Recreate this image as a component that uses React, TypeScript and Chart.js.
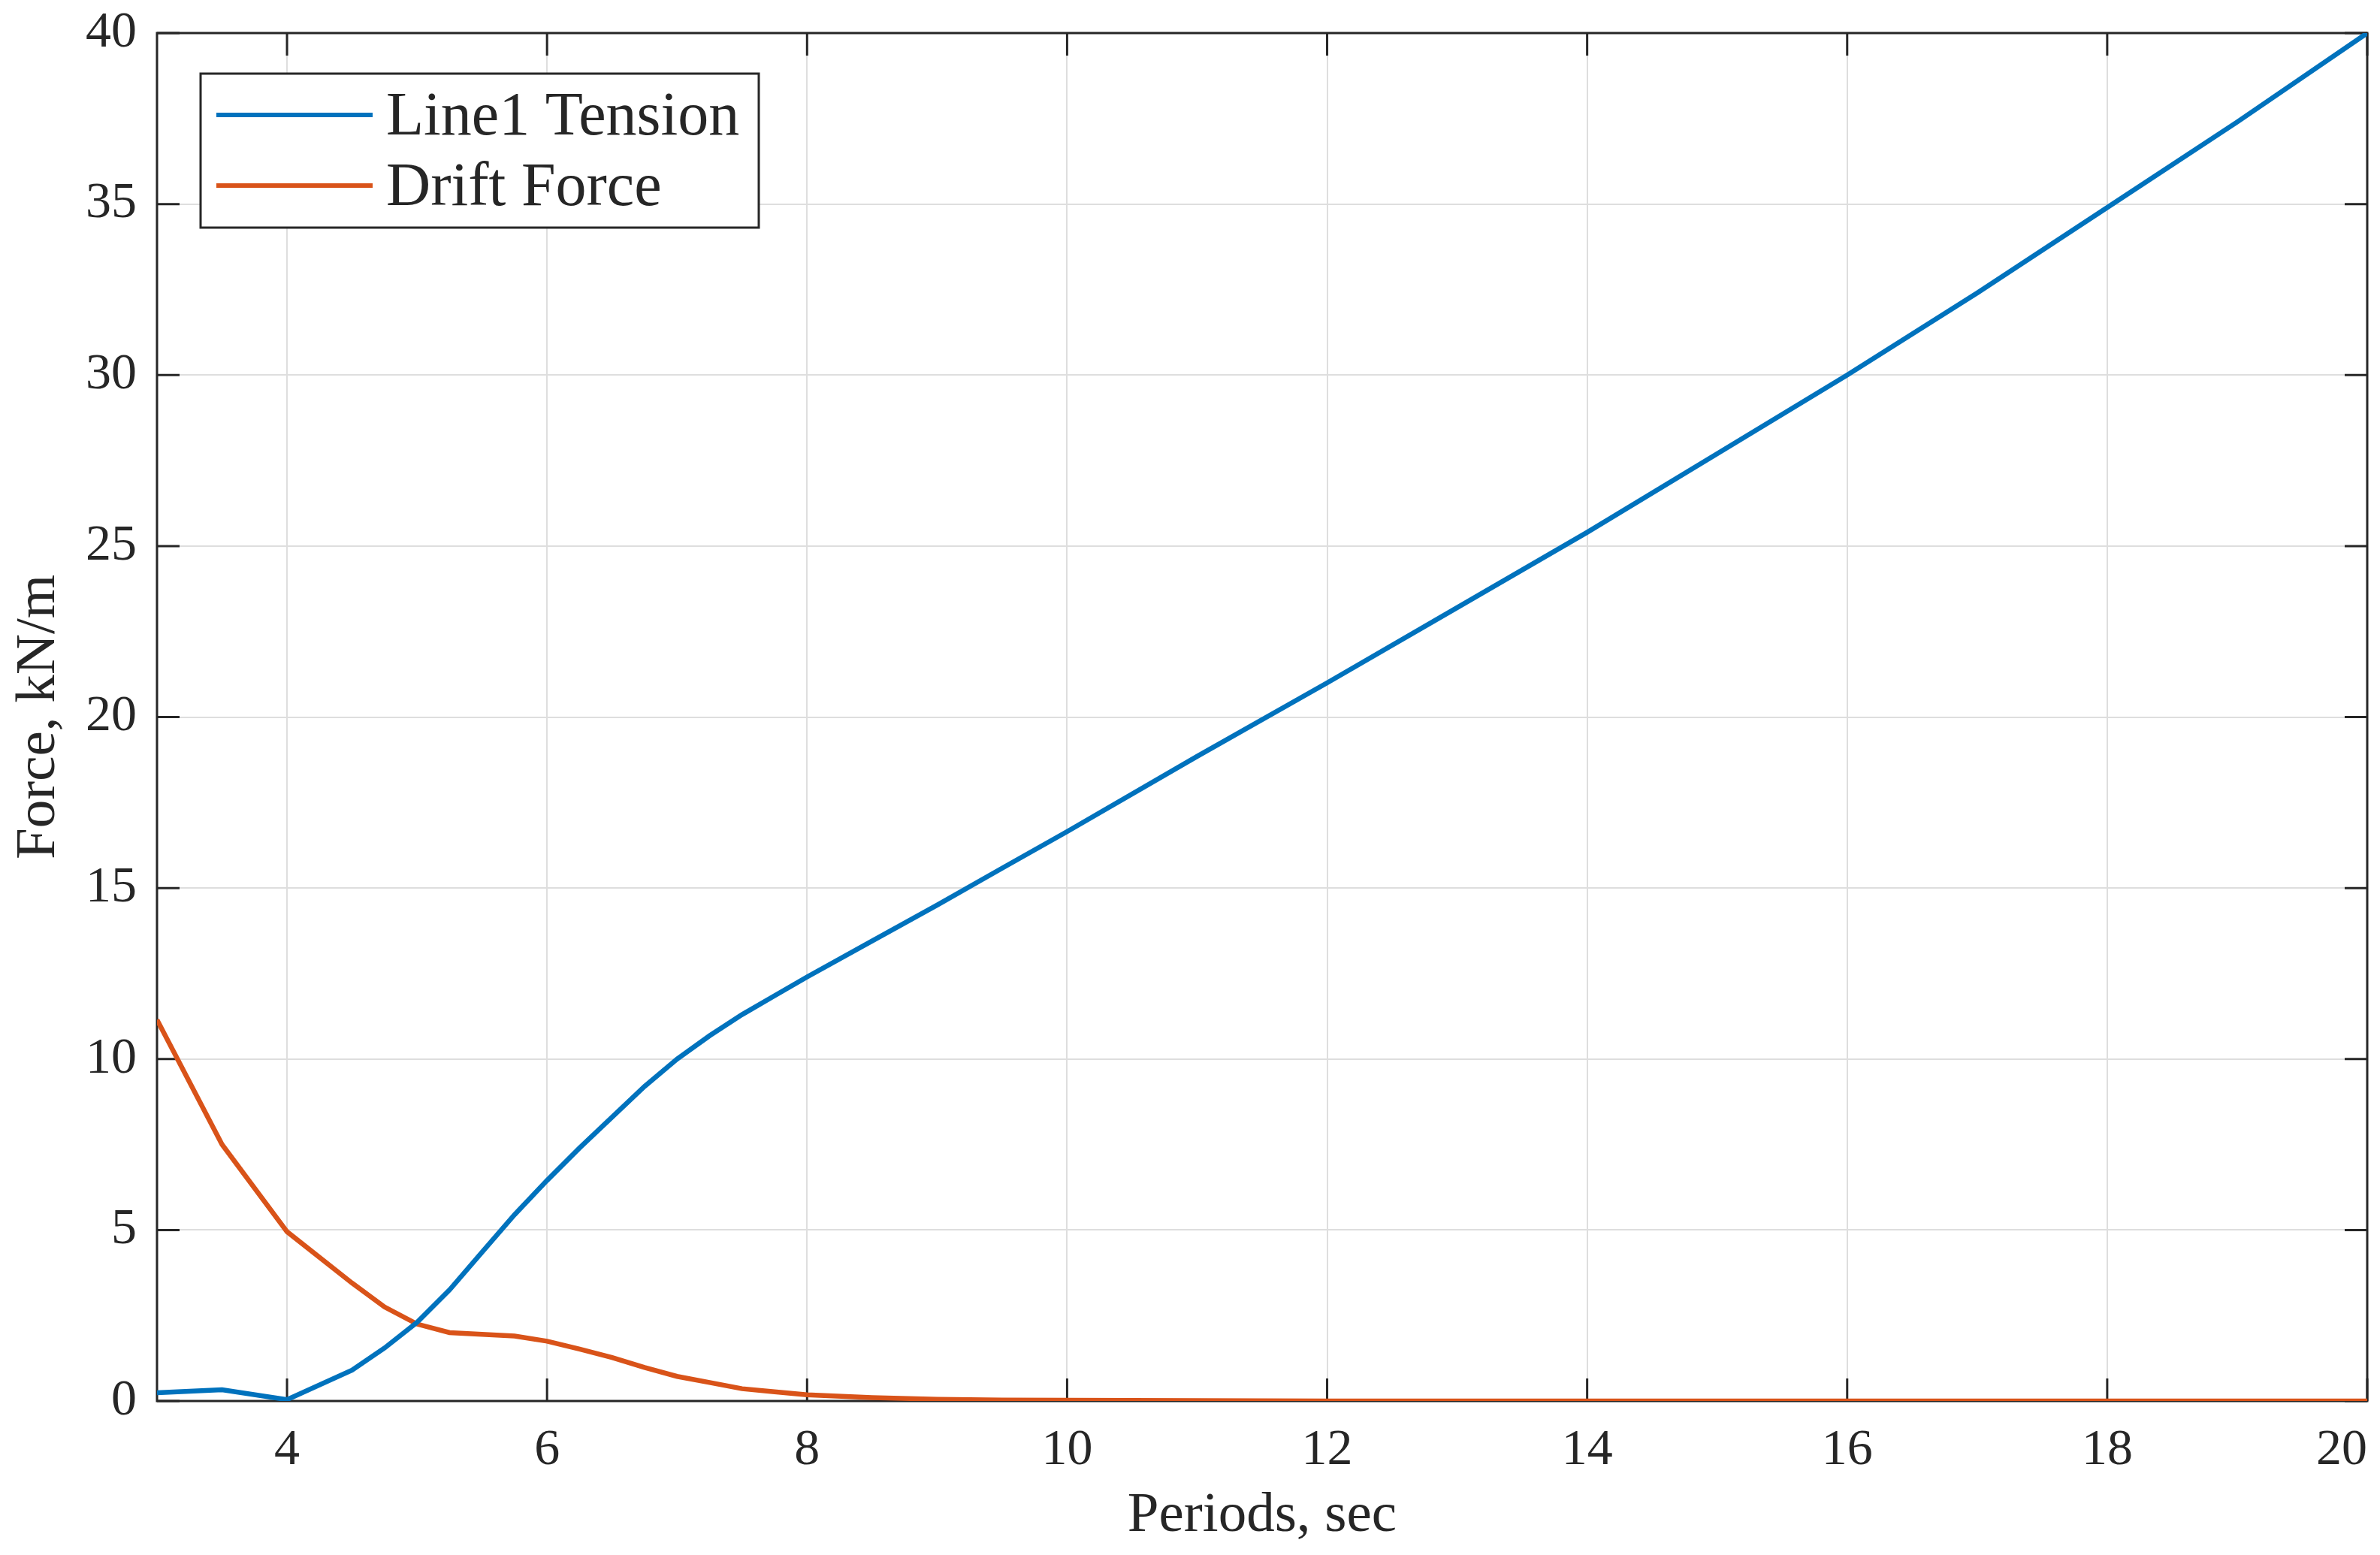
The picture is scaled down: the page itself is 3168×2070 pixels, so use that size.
import React, { useEffect, useRef } from 'react';
import { Chart, registerables } from 'chart.js';

Chart.register(...registerables);

// wave period, sec
const periods = [
  3, 3.5, 4, 4.5, 4.75, 5, 5.25, 5.5, 5.75, 6, 6.25, 6.5, 6.75, 7, 7.25, 7.5, 7.75,
  8, 8.5, 9, 9.5, 10, 11, 12, 13, 14, 15, 16, 17, 18, 19, 20,
];

// kN/m
const line1Tension = [
  0.24, 0.33, 0.04, 0.9, 1.55, 2.3, 3.25, 4.35, 5.45, 6.45, 7.4, 8.3, 9.2, 10.0, 10.68, 11.3, 11.85,
  12.4, 13.45, 14.5, 15.58, 16.65, 18.85, 21.0, 23.2, 25.4, 27.7, 30.0, 32.4, 34.9, 37.4, 40.0,
];

const driftForce = [
  11.15, 7.5, 4.95, 3.45, 2.75, 2.25, 2.0, 1.95, 1.9, 1.75, 1.52, 1.27, 0.98, 0.72, 0.54, 0.36, 0.27,
  0.18, 0.1, 0.05, 0.03, 0.02, 0.01, 0, 0, 0, 0, 0, 0, 0, 0, 0,
];

const xTicks = [4, 6, 8, 10, 12, 14, 16, 18, 20];
const yTicks = [0, 5, 10, 15, 20, 25, 30, 35, 40];

const FONT = "'Liberation Serif', 'Times New Roman', serif";
const INK = '#262626';

const toPoints = (ys: number[]) => periods.map((x, i) => ({ x, y: ys[i] }));

// MATLAB-ish box with inward ticks, drawn under the lines
const axesBox = {
  id: 'axesBox',
  beforeDatasetsDraw(chart: any) {
    const { ctx, chartArea, scales } = chart;
    const { left, right, top, bottom } = chartArea;
    const s = chart.width / 3168;
    const tl = 30 * s;
    ctx.save();
    ctx.strokeStyle = INK;
    ctx.lineWidth = 3 * s;
    ctx.beginPath();
    xTicks.forEach((v) => {
      const px = scales.x.getPixelForValue(v);
      ctx.moveTo(px, bottom);
      ctx.lineTo(px, bottom - tl);
      ctx.moveTo(px, top);
      ctx.lineTo(px, top + tl);
    });
    yTicks.forEach((v) => {
      const py = scales.y.getPixelForValue(v);
      ctx.moveTo(left, py);
      ctx.lineTo(left + tl, py);
      ctx.moveTo(right, py);
      ctx.lineTo(right - tl, py);
    });
    ctx.stroke();
    ctx.strokeRect(left, top, right - left, bottom - top);
    ctx.restore();
  },
};

// legend box inside the plot, upper left
const insetLegend = {
  id: 'insetLegend',
  afterDraw(chart: any) {
    const { ctx, chartArea } = chart;
    const s = chart.width / 3168;
    const bx = chartArea.left + 58 * s;
    const by = chartArea.top + 54 * s;
    const bw = 743 * s;
    const bh = 205 * s;
    ctx.save();
    ctx.fillStyle = '#ffffff';
    ctx.fillRect(bx, by, bw, bh);
    ctx.strokeStyle = INK;
    ctx.lineWidth = 3 * s;
    ctx.strokeRect(bx, by, bw, bh);
    ctx.font = `${82 * s}px ${FONT}`;
    ctx.textBaseline = 'middle';
    ctx.textAlign = 'left';
    chart.data.datasets.forEach((ds: any, i: number) => {
      const ry = by + (55 + i * 94) * s;
      ctx.strokeStyle = ds.borderColor;
      ctx.lineWidth = 6 * s;
      ctx.beginPath();
      ctx.moveTo(bx + 21 * s, ry);
      ctx.lineTo(bx + 229 * s, ry);
      ctx.stroke();
      ctx.fillStyle = INK;
      ctx.fillText(ds.label, bx + 247 * s, ry + 4 * s);
    });
    ctx.restore();
  },
};

const App = () => {
  const canvasRef = useRef<HTMLCanvasElement>(null);

  useEffect(() => {
    if (!canvasRef.current) return;
    document.body.style.margin = '0';
    document.body.style.overflow = 'hidden';
    const s = window.innerWidth / 3168;

    const chart = new Chart(canvasRef.current, {
      type: 'line',
      data: {
        datasets: [
          {
            label: 'Line1 Tension',
            data: toPoints(line1Tension),
            borderColor: '#0072BD',
            borderWidth: 6.5 * s,
            pointRadius: 0,
            tension: 0,
            fill: false,
          },
          {
            label: 'Drift Force',
            data: toPoints(driftForce),
            borderColor: '#D95319',
            borderWidth: 6.5 * s,
            pointRadius: 0,
            tension: 0,
            fill: false,
          },
        ],
      },
      options: {
        animation: false,
        responsive: true,
        maintainAspectRatio: false,
        layout: { padding: { top: 44 * s, right: 17 * s, left: 0, bottom: 0 } },
        plugins: {
          legend: { display: false },
          tooltip: { enabled: false },
        },
        scales: {
          x: {
            type: 'linear',
            min: 3,
            max: 20,
            // a blank tick at the left edge so 'inner' only pulls the last label in
            afterBuildTicks: (scale: any) => {
              scale.ticks = [3, ...xTicks].map((value) => ({ value }));
            },
            afterFit: (scale: any) => {
              scale.height = 205 * s;
              scale.paddingLeft = 0;
              scale.paddingRight = 0;
            },
            grid: { color: '#dedede', lineWidth: 2 * s, drawTicks: false },
            border: { display: false },
            ticks: {
              color: INK,
              padding: 25 * s,
              font: { family: FONT, size: 68 * s },
              maxRotation: 0,
              align: 'inner',
              callback: (v: any) => (v === 3 ? '' : String(v)),
            },
            title: {
              display: true,
              text: 'Periods, sec',
              color: INK,
              font: { family: FONT, size: 75 * s },
              padding: { top: 0, bottom: 7 * s },
            },
          },
          y: {
            type: 'linear',
            min: 0,
            max: 40,
            afterBuildTicks: (scale: any) => {
              scale.ticks = yTicks.map((value) => ({ value }));
            },
            afterFit: (scale: any) => {
              scale.width = 209 * s;
              scale.paddingTop = 0;
              scale.paddingBottom = 0;
            },
            grid: { color: '#dedede', lineWidth: 2 * s, drawTicks: false },
            border: { display: false },
            ticks: {
              color: INK,
              padding: 27 * s,
              font: { family: FONT, size: 68 * s },
            },
            title: {
              display: true,
              text: 'Force, kN/m',
              color: INK,
              font: { family: FONT, size: 75 * s },
              padding: { top: 7 * s, bottom: 0 },
            },
          },
        },
      },
      plugins: [axesBox, insetLegend],
    });

    return () => {
      chart.destroy();
    };
  }, []);

  return (
    <div style={{ width: '100vw', height: '100vh', position: 'relative' }}>
      <canvas ref={canvasRef} />
    </div>
  );
};

export default App;
